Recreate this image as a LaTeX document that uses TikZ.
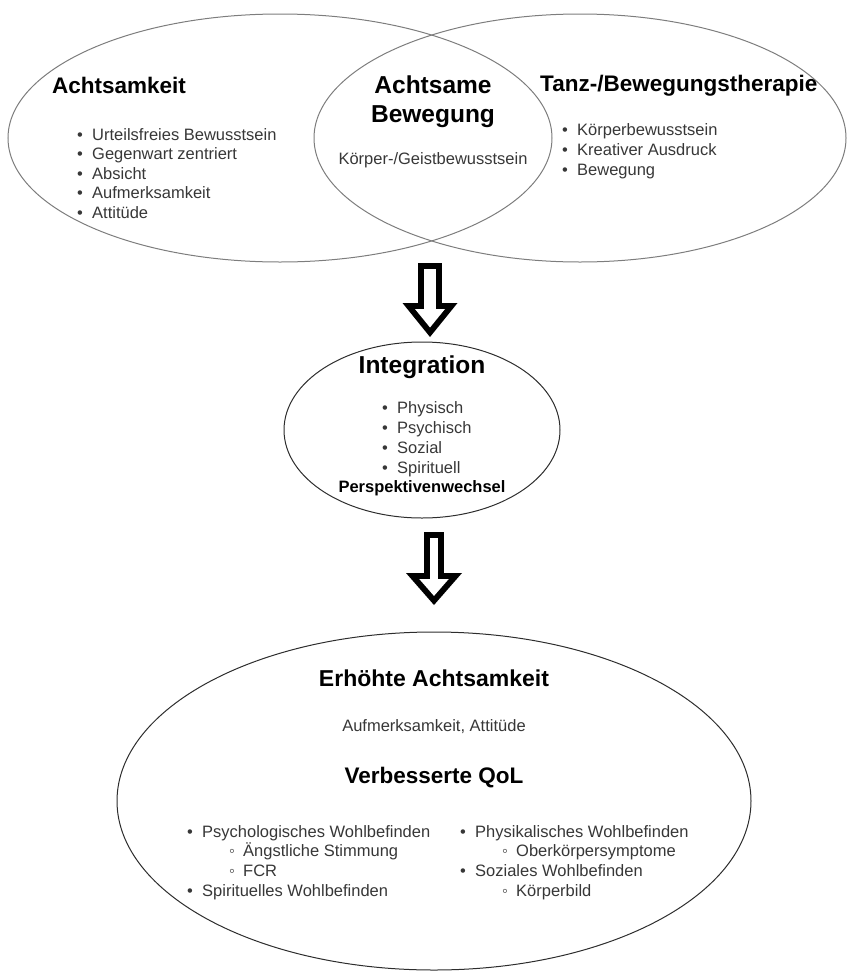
\documentclass[tikz,border=0pt]{standalone}
\usepackage{fontspec}
\setmainfont{Liberation Sans}
\usetikzlibrary{shapes.geometric,arrows.meta,positioning,calc}
\definecolor{ringgrey}{RGB}{125,125,125}
\definecolor{ringdark}{RGB}{45,45,45}
\definecolor{txtgrey}{RGB}{55,55,55}
\newcommand{\bl}{\makebox[15pt][l]{•}}
\newcommand{\sbl}{\hspace*{42pt}\makebox[14pt][l]{◦}}

\begin{document}
\begin{tikzpicture}[x=1pt, y=-1pt,
    ring/.style={ellipse, draw=ringgrey, line width=1pt, inner sep=0pt},
    bigtitle/.style={font=\fontsize{22.5}{27}\selectfont\bfseries, inner sep=0pt},
    subtitle/.style={font=\fontsize{24.5}{29}\selectfont\bfseries, inner sep=0pt, align=center},
    item/.style={font=\fontsize{16.5}{19.5}\selectfont, text=txtgrey, inner sep=0pt},
    outarrA/.style={line width=24pt, -{Triangle[line width=0pt,length=34pt,width=55pt]}},
    inarrA/.style={white, line width=12pt, shorten <=6pt, shorten >=9.5pt,
                   -{Triangle[line width=0pt,length=18.5pt,width=30pt]}},
    outarrB/.style={line width=20pt, -{Triangle[line width=0pt,length=32pt,width=56pt]}},
    inarrB/.style={white, line width=8pt, shorten <=6pt, shorten >=9.1pt,
                   -{Triangle[line width=0pt,length=16.9pt,width=29.5pt]}}
]
\useasboundingbox (0,0) rectangle (848,972);

% Venn: Achtsamkeit / Tanz-/Bewegungstherapie
\node[ring, minimum width=544pt, minimum height=248pt] (achts) at (280,138) {};
\node[ring, minimum width=532pt, minimum height=248pt] (tanz) at (580,138) {};

\node[bigtitle, anchor=base west] (achtitle) at (52,93) {Achtsamkeit};
\foreach \t [count=\i from 0] in {Urteilsfreies Bewusstsein, Gegenwart zentriert,
    Absicht, Aufmerksamkeit, Attitüde}
  \node[item, anchor=base west] (ach-\i) at (77,{140+19.5*\i}) {\bl\t};

\node[subtitle] (lenstitle) at (433,102) {Achtsame\\Bewegung};
\node[item, anchor=base] (lenstext) at (433,164) {Körper-/Geistbewusstsein};

\node[bigtitle, anchor=base west] (tanztitle) at (540,91) {Tanz-/Bewegungstherapie};
\foreach \t [count=\i from 0] in {Körperbewusstsein, Kreativer Ausdruck, Bewegung}
  \node[item, anchor=base west] (tanz-\i) at (562,{135+20*\i}) {\bl\t};

% Integration
\node[ring, draw=ringdark, minimum width=276pt, minimum height=176pt] (integ) at (422,430) {};
\node[subtitle, anchor=base] (integtitle) at (422,373) {Integration};
\foreach \t [count=\i from 0] in {Physisch, Psychisch, Sozial, Spirituell}
  \node[item, anchor=base west] (integ-\i) at (382,{413+20*\i}) {\bl\t};
\node[item, text=black, font=\fontsize{16.5}{19.5}\selectfont\bfseries, anchor=base]
  (perspektive) at (422,492) {Perspektivenwechsel};

% Ergebnis
\node[ring, draw=ringdark, minimum width=634pt, minimum height=338pt] (qol) at (434,801) {};
\node[bigtitle, font=\fontsize{23}{27}\selectfont\bfseries, anchor=base] (erhoeht) at (434,686) {Erhöhte Achtsamkeit};
\node[item, anchor=base] (aufm) at (434,731) {Aufmerksamkeit, Attitüde};
\node[bigtitle, anchor=base] (verbessert) at (434,783) {Verbesserte QoL};
\foreach \lv/\t [count=\i from 0] in {0/Psychologisches Wohlbefinden, 1/Ängstliche Stimmung,
    1/FCR, 0/Spirituelles Wohlbefinden}
  \node[item, anchor=base west] (psy-\i) at (187,{837+19.7*\i})
    {\ifnum\lv=0 \bl\else\sbl\fi\t};
\foreach \lv/\t [count=\i from 0] in {0/Physikalisches Wohlbefinden, 1/Oberkörpersymptome,
    0/Soziales Wohlbefinden, 1/Körperbild}
  \node[item, anchor=base west] (phy-\i) at (460,{837+19.7*\i})
    {\ifnum\lv=0 \bl\else\sbl\fi\t};

% hollow arrows
\coordinate (a1top) at (430,263);
\coordinate (a1tip) at (430,337);
\draw[outarrA] (a1top) -- (a1tip);
\draw[inarrA] (a1top) -- (a1tip);
\coordinate (a2top) at (434,532);
\coordinate (a2tip) at (434,605);
\draw[outarrB] (a2top) -- (a2tip);
\draw[inarrB] (a2top) -- (a2tip);
\end{tikzpicture}
\end{document}
